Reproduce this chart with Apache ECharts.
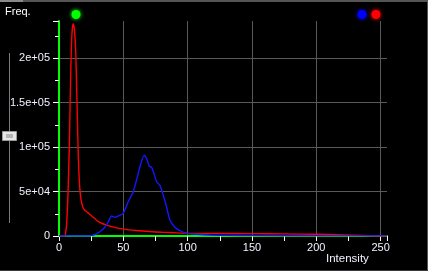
<!DOCTYPE html>
<html>
<head>
<meta charset="utf-8">
<style>
html,body{margin:0;padding:0;background:#000;}
#c{width:428px;height:271px;}
</style>
<script src="https://cdn.jsdelivr.net/npm/echarts@6/dist/echarts.min.js"></script>
</head>
<body>
<div id="c"></div>
<script>
// ---- data ----
const redIntensity = [0, 4, 5, 6, 7, 8, 9, 10, 11, 12, 13, 14, 15, 16, 17, 18, 19, 20, 21.5, 23, 25, 27, 29, 31, 34, 37, 40, 45, 50, 60, 70, 80, 90, 100, 120, 150, 175, 200, 220, 235, 242, 246, 255];
const redValues    = [0, 0, 2000, 15000, 48000, 100000, 175000, 226000, 239000, 232000, 208000, 150000, 90000, 57000, 42000, 35000, 31000, 29000, 27300, 25500, 23000, 20500, 18000, 16000, 13800, 12200, 10800, 9200, 7800, 6200, 5000, 4200, 3600, 3100, 2900, 2700, 2400, 1900, 1300, 700, 200, 0, 0];

const blueIntensity = [0, 24, 26.6, 29, 31.8, 35.7, 38.3, 40.9, 43.5, 46, 49.9, 53.8, 57.7, 60.3, 62.9, 66.2, 68.1, 70.1, 72, 73.8, 75.9, 78.4, 81, 83.6, 86.2, 90.1, 93.9, 99.1, 107, 117, 130, 150, 200, 255];
const blueValues    = [0, 0, 1100, 2500, 4800, 9800, 16000, 22500, 21000, 22500, 25500, 38500, 49800, 62900, 77900, 91000, 87300, 78700, 77200, 70400, 61000, 57300, 46100, 32900, 18000, 9800, 6000, 3000, 1900, 1100, 700, 400, 200, 100];

const yTickValues = [0, 50000, 100000, 150000, 200000];
const yTickLabels = ['0', '5e+04', '1e+05', '1.5e+05', '2e+05'];
const xTickValues = [0, 50, 100, 150, 200, 250];
const xTickLabels = ['0', '50', '100', '150', '200', '250'];

// slider handle markers (intensity positions) and colours
const handleIntensity = [13.2, 235.6, 246.4];
const handleColors = ['#00ff00', '#0000ff', '#ff0000'];

const FONT = "'Liberation Sans', Arial, sans-serif";
const pairs = (xs, ys) => xs.map((x, i) => [x, ys[i]]);

const chart = echarts.init(document.getElementById('c'), null, {renderer: 'canvas'});

const option = {
  backgroundColor: '#000000',
  animation: false,
  grid: {left: 59, top: 21, right: 41, bottom: 35},
  xAxis: {
    type: 'value', min: 0, max: 255, interval: 50,
    axisLine: {show: true, lineStyle: {color: '#00ff00', width: 2}},
    axisTick: {show: true, length: 5, lineStyle: {color: '#ffffff'}},
    minorTick: {show: true, splitNumber: 2, length: 5, lineStyle: {color: '#ffffff'}},
    axisLabel: {
      color: '#f2f2ff', fontSize: 11, fontFamily: FONT, margin: 6,
      showMaxLabel: false,
      formatter: v => { const i = xTickValues.indexOf(v); return i >= 0 ? xTickLabels[i] : ''; }
    },
    splitLine: {show: true, showMinLine: false, showMaxLine: false, lineStyle: {color: '#5a5a5a', width: 1}}
  },
  yAxis: {
    type: 'value', min: 0, max: 242000, interval: 50000,
    axisLine: {show: true, lineStyle: {color: '#00ff00', width: 2}},
    axisTick: {show: true, length: 6, lineStyle: {color: '#ffffff'}},
    minorTick: {show: true, splitNumber: 2, length: 4, lineStyle: {color: '#ffffff'}},
    axisLabel: {
      color: '#f2f2ff', fontSize: 11, fontFamily: FONT, margin: 9,
      showMaxLabel: false,
      formatter: v => { const i = yTickValues.indexOf(v); return i >= 0 ? yTickLabels[i] : ''; }
    },
    splitLine: {show: true, showMinLine: false, showMaxLine: false, lineStyle: {color: '#5a5a5a', width: 1}}
  },
  series: [
    {
      name: 'Red', type: 'line', data: pairs(redIntensity, redValues),
      showSymbol: false, smooth: 0.2, clip: true,
      lineStyle: {color: '#ff0000', width: 1.4}, z: 3
    },
    {
      name: 'Blue', type: 'line', data: pairs(blueIntensity, blueValues),
      showSymbol: false, smooth: 0.2, clip: true,
      lineStyle: {color: '#1515ff', width: 1.4}, z: 4
    }
  ],
  graphic: [
    {type: 'rect', shape: {x: 0, y: 0, width: 428, height: 2}, style: {fill: '#555555'}, silent: true},
    {type: 'rect', shape: {x: 0, y: 0, width: 23, height: 2}, style: {fill: '#8a8a8a'}, silent: true},
    {type: 'rect', shape: {x: 427, y: 0, width: 1, height: 271}, style: {fill: '#555555'}, silent: true},
    {type: 'rect', shape: {x: 0, y: 270, width: 428, height: 1}, style: {fill: '#3a3a3a'}, silent: true},
    {type: 'line', shape: {x1: 9.5, y1: 53, x2: 9.5, y2: 223}, style: {stroke: '#7a7a7a', lineWidth: 1}, silent: true},
    {type: 'rect', shape: {x: 2.5, y: 131.5, width: 14, height: 9}, style: {fill: '#e6e6e6', stroke: '#9a9a9a', lineWidth: 1}, silent: true},
    {type: 'rect', shape: {x: 6, y: 134, width: 7, height: 4}, style: {fill: '#b4b4b4'}, silent: true},
    {type: 'text', left: 5, top: 6, style: {text: 'Freq.', fill: '#ffffff', font: '11px ' + FONT}, silent: true},
    {type: 'text', left: 326, top: 253, style: {text: 'Intensity', fill: '#f2f2ff', font: '11.5px ' + FONT}, silent: true}
  ]
};
chart.setOption(option);

// slider handle dots placed on the x scale
const dots = handleIntensity.map((v, i) => ({
  type: 'circle',
  shape: {cx: chart.convertToPixel({xAxisIndex: 0}, v), cy: 14.5, r: 4.5},
  style: {fill: handleColors[i], shadowBlur: 4, shadowColor: handleColors[i]},
  silent: true, z: 10
}));
chart.setOption({graphic: option.graphic.concat(dots)});
</script>
</body>
</html>
